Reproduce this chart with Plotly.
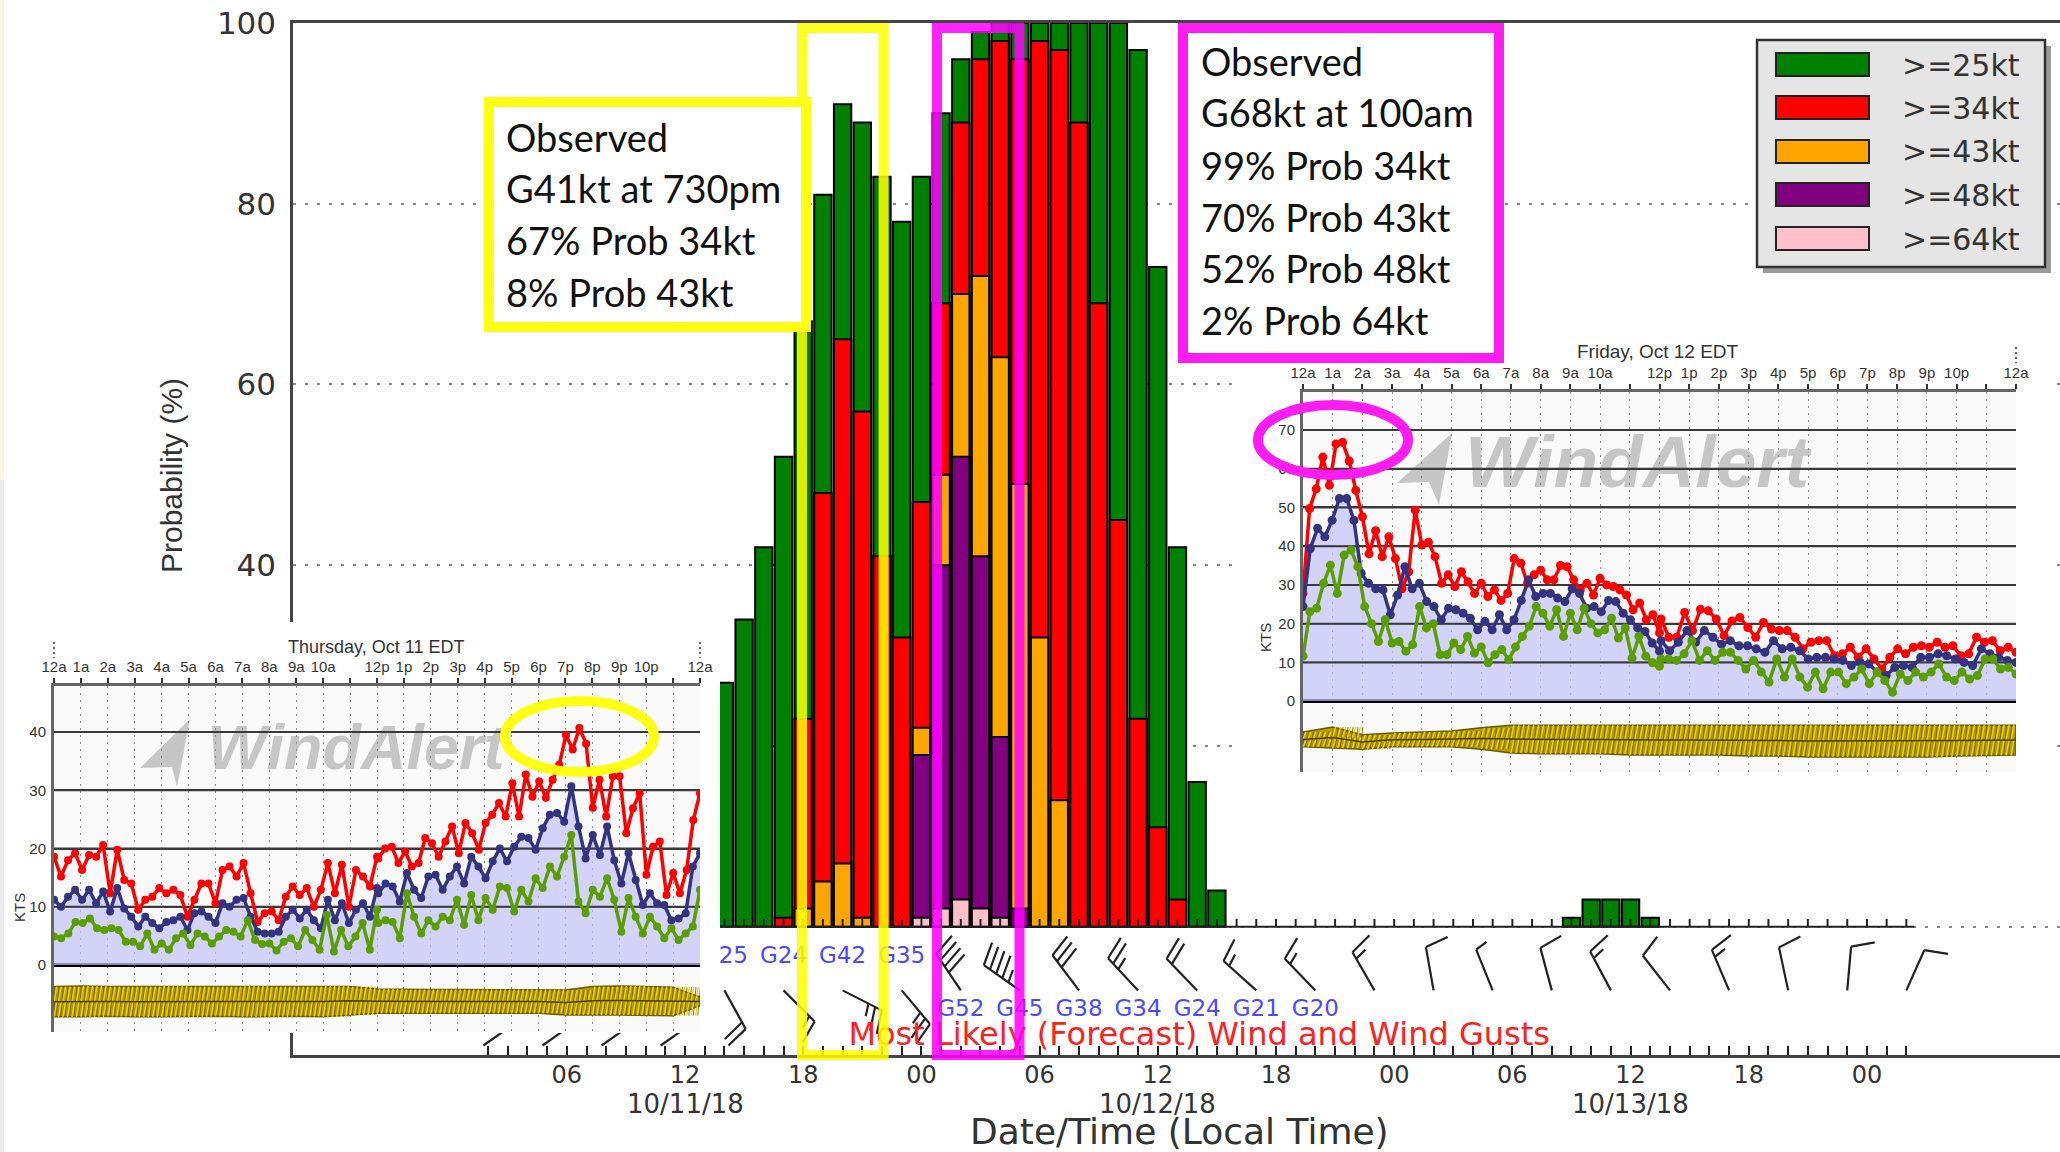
import numpy as np
import plotly.graph_objects as go

W, H = 2060, 1152

# ---------- main chart data ----------
bar_hours = list(range(14, 40)) + [57, 58, 59, 60, 61]
ge25 = [27, 34, 42, 52, 67, 81, 91, 89, 83, 78, 83, 90, 96, 99, 100, 100, 100, 100, 100, 100, 100, 97, 73, 42, 16, 4,
        1, 3, 3, 3, 1]
ge34 = [None, None, None, 1, 23, 48, 65, 57, 41, 32, 47, 69, 89, 96, 98, 96, 98, 97, 89, 69, 45, 23, 11, 3, None, None,
        None, None, None, None, None]
ge43 = [None, None, None, None, 2, 5, 7, 1, None, None, 22, 50, 70, 72, 63, 49, 32, 14, None, None, None, None, None,
        None, None, None, None, None, None, None, None]
ge48 = [None] * 10 + [19, 40, 52, 41, 21, 2] + [None] * 15
ge64 = [None] * 10 + [1, 2, 3, 2, 1] + [None] * 16
series_names = [">=25kt", ">=34kt", ">=43kt", ">=48kt", ">=64kt"]
series_colors = ["#008000", "#ff0000", "#ffa500", "#800080", "#ffc0cb"]

x_tick_hours = list(range(2, 75))
x_labels = {6: "06", 12: "12", 18: "18", 24: "00", 30: "06", 36: "12", 42: "18", 48: "00", 54: "06", 60: "12",
            66: "18", 72: "00"}
date_labels = {12: "10/11/18", 36: "10/12/18", 60: "10/13/18"}
prob_ticks = [0, 20, 40, 60, 80, 100]
prob_labels = ["", "", "40", "60", "80", "100"]  # 0 and 20 lie under the pasted inset

barb_hours = [2, 5, 8, 11, 14, 17, 20, 23, 26, 29, 32, 35, 38, 41, 44, 47, 50, 53, 56, 59, 62, 65, 68, 71, 74]
barb_dirs = [160, 160, 160, 160, 151, 135, 117, 140, 326, 305, 323, 317, 316, 312, 316, 330, 350, 338, 345, 332,
             322, 337, 348, 5, 24]
barb_speeds = [10, 15, 10, 15, 20, 15, 25, 25, 40, 45, 30, 25, 20, 15, 15, 15, 10, 5, 10, 15, 10, 15, 10, 10, 10]
gust_hours_up = [14, 17, 20, 23]
gust_text_up = ["G25", "G24", "G42", "G35"]
gust_hours_low = [26, 29, 32, 35, 38, 41, 44]
gust_text_low = ["G52", "G45", "G38", "G34", "G24", "G21", "G20"]

# ---------- Thursday inset (kts, read every ~15 min, AM then PM) ----------
thu_red_am = [18.6, 15.2, 18, 19.2, 16.3, 18.9, 18.6, 20.6, 12.3, 19.8, 14.6, 14, 9.5, 11.2, 11.7, 13.2, 12.3, 12.9, 12,
              8.3, 11.2, 14, 14, 10.6, 16.3, 16.9, 15.2, 17.5, 12.3, 7.4, 8.9, 9.2, 7.7, 11.7, 13.5, 12, 13.2, 10,
              12.9, 17.5, 12.3, 17.2, 10, 16.3, 15.2, 13.5, 18.6]
thu_red_pm = [18.3, 20, 20.3, 17.5, 19.5, 16.9, 17.5, 21.8, 20.9, 18.6, 21.2, 23.8, 19.2, 24.4, 22.6, 19.8, 24.4, 25.8,
              27.8, 25.5, 31.2, 25.5, 32.7, 28.9, 31.5, 28.7, 31.8, 34.4, 39.5, 37, 40.7, 38, 27, 31.8, 25.5, 32.4,
              32.4, 22.6, 26.9, 29.5, 15.5, 20.3, 21.2, 12, 15.8, 12.3, 16.3, 24.9, 29.5]
thu_blue_am = [11.2, 10, 11.7, 12.9, 11.2, 12.9, 10.6, 12.6, 9.2, 13.2, 9.7, 8.3, 6.6, 8.3, 7.2, 6.3, 7.4, 7.7, 8.3, 6,
               8.9, 9.2, 8.3, 7.2, 10.6, 10, 11.2, 11.5, 8.3, 5.7, 5.4, 5.4, 5.7, 8.3, 9.5, 8, 9.5, 7.7, 6.3, 11.2,
               7.7, 10.6, 7.2, 9.5, 10.6, 8.3, 13.2]
thu_blue_pm = [12.3, 14, 13.5, 10.9, 15.8, 12.9, 11.5, 15.2, 15.5, 12.9, 15.2, 16.9, 14, 18.6, 16.9, 14.9, 17.8, 20,
               17.8, 20.3, 22, 21.8, 19.8, 23.5, 25.8, 26.1, 24.6, 30.7, 23.8, 18.3, 22.3, 18.9, 23.8, 18, 14, 19.2,
               14.6, 10.3, 12.3, 10.6, 10.3, 7.7, 8, 8.9, 16.9, 19.2]
thu_green_am = [4.9, 4.6, 5.4, 7.4, 7.2, 8, 6.3, 6, 6.3, 6, 4, 4, 3.2, 5.4, 2.6, 3.7, 2.6, 4.6, 5.4, 3.4, 5.4, 4.9, 3.7,
                4.9, 6, 5.7, 4.9, 7.7, 4.3, 3.6, 3.7, 2.5, 4, 4.6, 3.2, 6, 4.3, 2.6, 8.6, 2.3, 6, 3.2, 4.9, 7.2, 2.6,
                9.5]
thu_green_pm = [7.2, 7.7, 7.4, 4.6, 12.3, 8.3, 5.4, 7.7, 6.6, 8.3, 7.7, 11.2, 6.9, 12, 7.7, 11.5, 9.5, 13.5, 13.2, 9.2,
                12.9, 10.9, 14.9, 13.2, 16.9, 15.2, 18.6, 22.3, 10.9, 8.9, 12.9, 11.7, 14.9, 11.2, 5.7, 11.5, 8.3, 5.4,
                8.3, 6.6, 4.6, 6.3, 4.3, 5.4, 6.6, 12.9]
thu_band_top = [-3.7, -3.6, -3.7, -3.7, -3.6, -3.7, -3.7, -3.6, -3.7, -3.7, -3.6, -3.7, -4.1, -4.2, -4.2, -4.2, -4.2,
                -4.2, -4.2, -4.3, -3.7, -3.6, -3.7, -3.8, -5.5]
thu_band_bot = [-8.9, -8.9, -8.8, -8.9, -8.9, -8.9, -8.8, -8.9, -8.9, -8.8, -8.9, -8.6, -8.3, -8.3, -8.3, -8.3, -8.3,
                -8.3, -8.3, -8.6, -8.6, -8.6, -8.6, -8.7, -7]
thu_kts_ticks = [0, 10, 20, 30, 40]

# ---------- Friday inset ----------
fri_red_am = [27.8, 49.7, 54.8, 63, 55.7, 66.4, 66.8, 62, 54.4, 47.6, 38, 44, 37.3, 42.4, 36.8, 29, 33.4, 49.3, 40.3, 41,
              37.3, 30.4, 32.6, 29.6, 33.4, 30.8, 27.8, 30.4, 27, 28.7, 26, 27.8, 36.8, 35.6, 30.4, 32.6, 33.8, 31.3,
              31.3, 35, 34.7, 31.3, 28.7, 30.4, 27.4, 31.7, 30, 29.6, 28.7, 27.4, 23.6, 25.3, 21, 22.3, 17.6]
fri_red_pm = [21.2, 16.5, 16.5, 22.9, 18.2, 23.7, 23.3, 21.2, 16.9, 20.7, 21.6, 19, 16.5, 20.3, 18.6, 18.2, 18.2, 16.5,
              13.5, 15.2, 15.6, 15.6, 11.7, 12.2, 13.9, 11.3, 13.5, 10.9, 8.3, 11.3, 13.5, 12.2, 13.9, 14.3, 13.9, 15.2,
              13.9, 14.3, 11.7, 12.2, 16.5, 15.2, 15.6, 13, 13.9, 12.6]
fri_blue_am = [24.4, 39.4, 44.6, 42.4, 46.7, 52.3, 52.3, 46.7, 33, 30.4, 29, 28.7, 22.3, 27.4, 34.7, 29, 30.4, 25.7, 24.4,
               21, 24, 23.6, 22.7, 21.4, 18.4, 20.6, 18.4, 22.3, 18.4, 21, 26, 31.3, 27, 27.8, 27.8, 26.6, 25.7, 29,
               27.8, 24, 24.4, 23.1, 26, 25.7, 22.7, 21, 18.9, 18, 15, 12.9]
fri_blue_pm = [15.6, 13, 15.2, 18.2, 15.2, 18.2, 16.5, 14.7, 15.6, 14.3, 14.3, 13.5, 12.6, 15.6, 13.5, 13.9, 13, 10.9,
               11.3, 11.3, 10.9, 10.5, 9.2, 10, 9.6, 7.5, 6.6, 8.7, 9.2, 8.7, 11.3, 11.3, 12.2, 11.7, 10.9, 10, 9.2,
               13.5, 12.2, 11.3, 10.5, 10]
fri_green_am = [11.6, 23.1, 24, 30.4, 35.1, 27.8, 37.7, 39, 34.7, 24.4, 20, 15.4, 21, 15, 15.4, 12.9, 14.6, 24.4, 18.9, 20,
                12, 12, 15, 13.3, 16.7, 12.4, 14, 9.9, 12, 13.3, 10.7, 14, 16.7, 19.3, 24.4, 22.7, 19.3, 23.6, 16.7,
                22.7, 18.4, 24, 20, 17.6, 18.4, 21.4, 16.3, 18.9, 11.1, 16.7, 11.6, 9.9, 9]
fri_green_pm = [10.9, 10.9, 10.5, 12.2, 15.6, 10.5, 13, 10.5, 12.6, 12.6, 10.5, 8.3, 10.5, 7.5, 4.9, 10.9, 6.2, 10.9, 6.2,
                3.6, 7.5, 3.2, 7.5, 7.5, 4.5, 6.2, 8.3, 4.5, 7.5, 5.3, 2.3, 7, 5.3, 7.5, 6.2, 7.5, 9.6, 6.2, 5.3, 7.5,
                5.7, 6.6, 10.9, 10.9, 8.3, 8.7, 7]
fri_band_top = [-8, -6.7, -8.7, -8.2, -8, -7.7, -6.9, -6.2, -6.2, -6.2, -6.2, -6.2, -6.2, -6.2, -6.2, -6.2, -6.2, -6.2,
                -6.2, -6.2, -6.2, -6.2, -6.2, -6.2, -6.2]
fri_band_bot = [-11.8, -12.1, -12.4, -11.8, -11.8, -11.8, -12.4, -13.4, -13.6, -13.6, -13.6, -13.9, -13.9, -13.9, -13.9,
                -14.2, -14.2, -14.4, -14.4, -14.4, -14.4, -14.4, -14.2, -14, -13.9]
fri_kts_ticks = [0, 10, 20, 30, 40, 50, 60, 70]
inset_hour_labels = ["12a", "1a", "2a", "3a", "4a", "5a", "6a", "7a", "8a", "9a", "10a", "", "12p", "1p", "2p", "3p",
                     "4p", "5p", "6p", "7p", "8p", "9p", "10p", "", "12a"]

DARK = "#333333"


def dx(px0, px1):
    return [px0 / W, px1 / W]


def dy(py0, py1):  # py0 top, py1 bottom
    return [1 - py1 / H, 1 - py0 / H]


fx = lambda p: p / W
fy = lambda p: 1 - p / H

fig = go.Figure()

# ---------- main bars ----------
for vals, name, col in zip([ge25, ge34, ge43, ge48, ge64], series_names, series_colors):
    fig.add_trace(go.Bar(x=bar_hours, y=vals, name=name, width=0.88, marker=dict(color=col, line=dict(color="#000000", width=2)),
                         showlegend=False, xaxis="x", yaxis="y", hoverinfo="skip"))

# zero line with hourly ticks
PX_H, PX_U = 19.7, 9.04
bx, by = [x_tick_hours[0], x_tick_hours[-1] + 0.4, None], [0, 0, None]
for h in x_tick_hours:
    bx += [h, h, None]
    by += [0, 0.85, None]
fig.add_trace(go.Scatter(x=bx, y=by, mode="lines", line=dict(color="#222222", width=2), xaxis="x", yaxis="y",
                         showlegend=False, hoverinfo="skip"))


# wind barbs, built from direction and speed
def barb(h, d, s, base=-7.05, stem=44.0):
    t = np.radians(d)
    ux, uy = np.sin(t), np.cos(t)
    px = [0, stem * ux, None]
    py = [0, stem * uy, None]
    f = np.radians(d + 75)
    fxv, fyv = np.sin(f), np.cos(f)
    rem = s
    pos = stem
    while rem >= 5:
        ln = 24 if rem >= 10 else 13
        sx, sy = pos * ux, pos * uy
        px += [sx, sx + ln * fxv, None]
        py += [sy, sy + ln * fyv, None]
        rem -= 10 if rem >= 10 else 5
        pos -= 7.5
    xs = [None if v is None else h + v / PX_H for v in px]
    ys = [None if v is None else base + v / PX_U for v in py]
    return xs, ys


sx, sy = [], []
for h, d, s in zip(barb_hours, barb_dirs, barb_speeds):
    a, b = barb(h, d, s)
    sx += a
    sy += b
fig.add_trace(go.Scatter(x=sx, y=sy, mode="lines", line=dict(color="#222222", width=2.2), xaxis="x", yaxis="y",
                         showlegend=False, hoverinfo="skip"))

fig.add_trace(go.Scatter(x=gust_hours_up, y=[-3.43] * len(gust_hours_up), mode="text", text=gust_text_up,
                         textfont=dict(family="DejaVu Sans", size=23, color="#4a4aff"), xaxis="x", yaxis="y",
                         showlegend=False, hoverinfo="skip"))
fig.add_trace(go.Scatter(x=gust_hours_low, y=[-9.2] * len(gust_hours_low), mode="text", text=gust_text_low,
                         textfont=dict(family="DejaVu Sans", size=23, color="#4a4aff"), xaxis="x", yaxis="y",
                         showlegend=False, hoverinfo="skip"))
fig.add_trace(go.Scatter(x=[38.1], y=[-12.2], mode="text", text=["Most Likely (Forecast) Wind and Wind Gusts"],
                         textfont=dict(family="DejaVu Sans", size=32, color="#ff2020"), xaxis="x", yaxis="y",
                         showlegend=False, hoverinfo="skip"))


def rect_xy(x0, x1, y0, y1):
    return [x0, x1, x1, x0, x0], [y0, y0, y1, y1, y0]


def add_panel(xa, ya, box, inner, wm_text, wm_xy, wm_size, arrow):
    """White sheet with the pasted inset's background, in pixel axes."""
    x0, x1, y0, y1 = box
    a, b = rect_xy(x0, x1, y0, y1)
    fig.add_trace(go.Scatter(x=a, y=b, mode="lines", fill="toself", fillcolor="#ffffff", line=dict(width=0), xaxis=xa,
                             yaxis=ya, showlegend=False, hoverinfo="skip"))
    a, b = rect_xy(*inner)
    fig.add_trace(go.Scatter(x=a, y=b, mode="lines", fill="toself", fillcolor="#fafafa", line=dict(width=0), xaxis=xa,
                             yaxis=ya, showlegend=False, hoverinfo="skip"))
    fig.add_trace(go.Scatter(x=[p[0] for p in arrow], y=[p[1] for p in arrow], mode="lines", fill="toself",
                             fillcolor="#c6c6c6", line=dict(width=0), xaxis=xa, yaxis=ya, showlegend=False,
                             hoverinfo="skip"))
    fig.add_trace(go.Scatter(x=[wm_xy[0]], y=[wm_xy[1]], mode="text", text=["<b><i>" + wm_text + "</i></b>"],
                             textfont=dict(family="Liberation Sans", size=wm_size, color="#c6c6c6"), xaxis=xa, yaxis=ya,
                             showlegend=False, hoverinfo="skip"))


def add_inset(xa, ya, am_pm, top, bot, kts_ticks, msize, lw):
    red_a, red_p, blue_a, blue_p, green_a, green_p = am_pm
    xs = lambda a, p: np.r_[np.linspace(0, 12, len(a)), np.linspace(12.05, 24, len(p))]
    # direction band
    hrs = list(range(25))
    fig.add_trace(go.Scatter(x=hrs + hrs[::-1] + [0], y=top + bot[::-1] + [top[0]], mode="lines", fill="toself",
                             fillcolor="#b49a04", line=dict(color="#6a5a00", width=1.5), xaxis=xa, yaxis=ya,
                             showlegend=False, hoverinfo="skip"))
    sy_x, sy_y, dk_x, dk_y = [], [], [], []
    for h in range(24):
        tp, bt = top[h], bot[h]
        for k in range(6):
            t = h + k / 6
            sy_x += [t + 0.1, t, None]
            sy_y += [tp, (tp + bt) / 2, None]
            sy_x += [t + 0.1, t, None]
            sy_y += [(tp + bt) / 2, bt, None]
            t2 = t + 1 / 12
            dk_x += [t2 + 0.1, t2, None]
            dk_y += [tp, bt, None]
    fig.add_trace(go.Scatter(x=dk_x, y=dk_y, mode="lines", line=dict(color="#6a5a00", width=0.8), xaxis=xa, yaxis=ya,
                             showlegend=False, hoverinfo="skip"))
    fig.add_trace(go.Scatter(x=sy_x, y=sy_y, mode="lines", line=dict(color="#f0d400", width=1.4), xaxis=xa, yaxis=ya,
                             showlegend=False, hoverinfo="skip"))
    fig.add_trace(go.Scatter(x=hrs, y=[(a + b) / 2 for a, b in zip(top, bot)], mode="lines",
                             line=dict(color="#4a3e00", width=1.5), xaxis=xa, yaxis=ya, showlegend=False,
                             hoverinfo="skip"))
    common = dict(mode="lines+markers", xaxis=xa, yaxis=ya, showlegend=False, hoverinfo="skip")
    fig.add_trace(go.Scatter(x=xs(blue_a, blue_p), y=blue_a + blue_p, mode="none", fill="tozeroy",
                             fillcolor="rgba(196,196,250,0.72)", xaxis=xa, yaxis=ya, showlegend=False,
                             hoverinfo="skip"))
    # horizontal rules stay visible over the shaded area
    gx, gy = [], []
    for v in kts_ticks:
        if v > 0:
            gx += [0, 24, None]
            gy += [v, v, None]
    fig.add_trace(go.Scatter(x=gx, y=gy, mode="lines", line=dict(color="#3a3a3a", width=2), xaxis=xa, yaxis=ya,
                             showlegend=False, hoverinfo="skip"))
    fig.add_trace(go.Scatter(x=xs(red_a, red_p), y=red_a + red_p, line=dict(color="#ff0000", width=lw),
                             marker=dict(color="#ff0000", size=msize), **common))
    fig.add_trace(go.Scatter(x=xs(blue_a, blue_p), y=blue_a + blue_p, line=dict(color="#333380", width=lw),
                             marker=dict(color="#333380", size=msize), **common))
    fig.add_trace(go.Scatter(x=xs(green_a, green_p), y=green_a + green_p, line=dict(color="#5a9e00", width=lw),
                             marker=dict(color="#5a9e00", size=msize), **common))


# Thursday: sheet then inset
P1 = (0, 720, 622, 1033)
I1 = (54, 700, 686, 1032)
add_panel("x2", "y2", P1, I1, "WindAlert", (356, 753), 63, [(190, 719), (140, 768), (172, 767), (177, 787), (190, 719)])
add_inset("x3", "y3", (thu_red_am, thu_red_pm, thu_blue_am, thu_blue_pm, thu_green_am, thu_green_pm), thu_band_top,
          thu_band_bot, thu_kts_ticks, 8, 3.5)

# Friday
P2 = (1241, 2055, 338, 773)
I2 = (1303, 2016, 392, 772)
add_panel("x4", "y4", P2, I2, "WindAlert", (1637, 469), 73, [(1452, 433), (1397, 483), (1429, 482), (1439, 505), (1452, 433)])
add_inset("x5", "y5", (fri_red_am, fri_red_pm, fri_blue_am, fri_blue_pm, fri_green_am, fri_green_pm), fri_band_top,
          fri_band_bot, fri_kts_ticks, 9, 3.5)

# ---------- axes ----------
pixel_axis = dict(visible=False, fixedrange=True)
inset_x = dict(range=[0, 24], side="top", tickmode="array", tickvals=list(range(25)), ticktext=inset_hour_labels,
               tickfont=dict(family="Liberation Sans", size=15, color=DARK), ticks="outside", ticklen=5, tickcolor=DARK,
               tickwidth=1.5, showline=True, linecolor="#666666", linewidth=3, showgrid=True, gridcolor="#8a8a8a",
               griddash="2px,5px", gridwidth=1, zeroline=False, tickangle=0)
inset_y = dict(tickmode="array", ticks="", showline=True, linecolor="#666666", linewidth=3, showgrid=True,
               gridcolor="#3a3a3a", gridwidth=2, zeroline=True, zerolinecolor="#000000", zerolinewidth=4,
               tickfont=dict(family="Liberation Sans", size=15, color=DARK), ticklabelstandoff=2)

fig.update_layout(
    width=W, height=H, autosize=False, margin=dict(l=0, r=0, t=0, b=0, autoexpand=False), paper_bgcolor="#ffffff",
    plot_bgcolor="rgba(0,0,0,0)",
    barmode="overlay", showlegend=False,
    xaxis=dict(domain=dx(293, 2060), range=[-7.9, 81.8], anchor="y", tickmode="array", tickvals=x_tick_hours,
               ticktext=[x_labels.get(h, "") for h in x_tick_hours], ticks="inside", ticklen=9, tickcolor="#222222",
               tickwidth=1.5, tickangle=0, showline=True, linecolor="#444444", linewidth=2.5, mirror=True,
               showgrid=False, zeroline=False, ticklabelstandoff=-4,
               tickfont=dict(family="DejaVu Sans", size=24, color=DARK)),
    yaxis=dict(domain=dy(23, 1055), range=[-14.2, 100], anchor="x", tickmode="array", tickvals=prob_ticks,
               ticktext=prob_labels, ticks="", showline=True, linecolor="#444444", linewidth=2.5,
               showgrid=True, gridcolor="#888888", griddash="3px,9px", gridwidth=1.5, zeroline=False,
               ticklabelstandoff=8, tickfont=dict(family="DejaVu Sans", size=31, color=DARK)),
    xaxis2=dict(domain=dx(P1[0], P1[1]), range=[P1[0], P1[1]], anchor="y2", **pixel_axis),
    yaxis2=dict(domain=dy(P1[2], P1[3]), range=[P1[3], P1[2]], anchor="x2", **pixel_axis),
    xaxis3=dict(domain=dx(I1[0], I1[1]), anchor="y3", **inset_x),
    yaxis3=dict(domain=dy(I1[2], I1[3]), range=[-11.5, 47.9], anchor="x3", tickvals=thu_kts_ticks, **inset_y),
    xaxis4=dict(domain=dx(P2[0], P2[1]), range=[P2[0], P2[1]], anchor="y4", **pixel_axis),
    yaxis4=dict(domain=dy(P2[2], P2[3]), range=[P2[3], P2[2]], anchor="x4", **pixel_axis),
    xaxis5=dict(domain=dx(I2[0], I2[1]), anchor="y5", **inset_x),
    yaxis5=dict(domain=dy(I2[2], I2[3]), range=[-18.3, 79.8], anchor="x5", tickvals=fri_kts_ticks, **inset_y),
)

# ---------- overlays ----------
shapes = []


def pshape(kind, x0, y0, x1, y1, **kw):
    shapes.append(dict(type=kind, xref="paper", yref="paper", x0=fx(x0), x1=fx(x1), y0=fy(y0), y1=fy(y1), layer="above", **kw))


# page edge
pshape("rect", 0, 0, 4, 480, fillcolor="#fff6e0", line=dict(width=0))
pshape("rect", 0, 480, 4, 1152, fillcolor="#ececec", line=dict(width=0))
# pasted dotted end marks
for xx, y0, y1 in [(54, 642, 658), (700, 642, 658), (1303, 347, 363), (2016, 347, 363)]:
    pshape("line", xx, y0, xx, y1, line=dict(color="#333333", width=1.5, dash="2px,3px"))

# highlight frames
YEL = "rgba(255,255,0,0.86)"
MAG = "rgba(255,0,255,0.86)"
pshape("rect", 802, 28, 883.6, 1055, line=dict(color=YEL, width=10))
pshape("rect", 937, 28, 1019.5, 1055, line=dict(color=MAG, width=10))
pshape("rect", 489, 102, 806, 327, fillcolor="#ffffff", line=dict(color="#ffff14", width=10))
pshape("rect", 1183, 28, 1499, 358, fillcolor="#ffffff", line=dict(color="#ff1cf0", width=10))
pshape("circle", 505, 701, 654, 772, line=dict(color="#ffff14", width=10))
pshape("circle", 1258, 405, 1408, 475, line=dict(color="#ff1cf0", width=10))

# legend box
pshape("rect", 1763, 46, 2051, 273, fillcolor="#9a9a9a", line=dict(width=0))
pshape("rect", 1757, 40, 2045, 267, fillcolor="#e5e5e5", line=dict(color="#333333", width=2.5))
rows = [53, 96, 140, 183, 227]
for yy, col in zip(rows, series_colors):
    pshape("rect", 1776, yy, 1869, yy + 23, fillcolor=col, line=dict(color="#222222", width=2))
fig.update_layout(shapes=shapes)

ann = []


def note(x, y, text, size, color="#111111", family="Lato", anchor="left", angle=0):
    ann.append(dict(xref="paper", yref="paper", x=fx(x), y=fy(y), text=text, showarrow=False, xanchor=anchor,
                    yanchor="middle", textangle=angle, font=dict(family=family, size=size, color=color)))


for y, t in zip([137, 188, 240, 292], ["Observed", "G41kt at 730pm", "67% Prob 34kt", "8% Prob 43kt"]):
    note(503.5, y, t, 38)
for y, t in zip([61, 112, 165, 217, 268, 320],
                ["Observed", "G68kt at 100am", "99% Prob 34kt", "70% Prob 43kt", "52% Prob 48kt", "2% Prob 64kt"]):
    note(1198.5, y, t, 38)
for yy, name in zip(rows, series_names):
    note(1900, yy + 12, name, 30, color="#333333", family="DejaVu Sans")
note(171, 476, "Probability (%)", 30, color=DARK, family="Liberation Sans", anchor="center", angle=-90)
note(1179, 1131, "Date/Time (Local Time)", 36, color=DARK, family="DejaVu Sans", anchor="center")
for h, t in date_labels.items():
    ann.append(dict(xref="x", yref="paper", x=h, y=fy(1104), text=t, showarrow=False, xanchor="center", yanchor="middle",
                    font=dict(family="DejaVu Sans", size=26, color=DARK)))
note(376, 647, "Thursday, Oct 11 EDT", 18, color=DARK, family="Liberation Sans", anchor="center")
note(1658, 351, "Friday, Oct 12 EDT", 19, color=DARK, family="Liberation Sans", anchor="center")
note(19, 908, "KTS", 15, color=DARK, family="Liberation Sans", anchor="center", angle=-90)
note(1265, 638, "KTS", 15, color=DARK, family="Liberation Sans", anchor="center", angle=-90)
fig.update_layout(annotations=ann)

fig.write_html("out.html", config={"displayModeBar": False},
               post_script="document.body.style.margin='0';document.body.style.overflow='hidden';")
